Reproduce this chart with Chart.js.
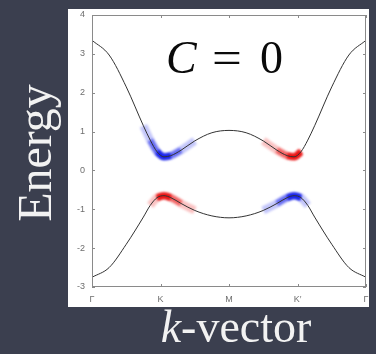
<!DOCTYPE html>
<html><head><meta charset="utf-8">
<script src="https://cdn.jsdelivr.net/npm/chart.js@4/dist/chart.umd.min.js"></script>
<style>
html,body{margin:0;padding:0;background:#3b3f4f;width:376px;height:354px;overflow:hidden}
canvas{display:block}
</style>
</head><body>
<canvas id="c" width="376" height="354"></canvas>
<script>
// ---- data ----
const kPos      = [0, 0.25, 0.5, 0.75, 0.85, 0.95, 1.05, 1.15, 1.3, 1.5, 1.75, 2, 2.25, 2.5, 2.7, 2.85, 2.95, 3.05, 3.15, 3.25, 3.5, 3.75, 4];
const kLabels   = ['Γ', 'K', 'M', 'K\u2032', 'Γ'];
const upperBand = [3.35, 2.97, 2.15, 1.15, 0.78, 0.48, 0.35, 0.38, 0.52, 0.76, 0.97, 1.03, 0.97, 0.76, 0.52, 0.38, 0.35, 0.48, 0.78, 1.15, 2.15, 2.97, 3.35];
const lowerBand = [-2.75, -2.5, -1.9, -1.2, -0.9, -0.7, -0.65, -0.7, -0.85, -1.03, -1.17, -1.22, -1.17, -1.03, -0.85, -0.7, -0.65, -0.7, -0.9, -1.2, -1.9, -2.5, -2.75];
const energyTicks = [-3, -2, -1, 0, 1, 2, 3, 4];
// k-ranges where the bands carry weight: [outer, middle, core]
const upperBlue = [[0.75, 1.5], [0.85, 1.3], [0.95, 1.15]];
const upperRed  = [[2.5, 3.05], [2.7, 3.05], [2.85, 3.05]];
const lowerRed  = [[0.85, 1.5], [0.95, 1.3], [0.95, 1.15]];
const lowerBlue = [[2.5, 3.15], [2.7, 3.05], [2.85, 3.05]];

const pts = (band, r) => kPos.map((k, i) => ({x: k, y: band[i]}))
  .filter(p => !r || (p.x >= r[0] - 1e-9 && p.x <= r[1] + 1e-9));

const BLUE = 'rgba(25,35,235,', RED = 'rgba(235,20,20,';
const line = (data, color, width, order, glow) => ({
  data, borderColor: color, borderWidth: width, pointRadius: 0,
  cubicInterpolationMode: 'monotone', fill: false, order, glow
});

const datasets = [
  line(pts(upperBand), '#333333', 1, 0),
  line(pts(lowerBand), '#333333', 1, 0),
];
[[upperBand, upperBlue, BLUE], [upperBand, upperRed, RED], [lowerBand, lowerRed, RED], [lowerBand, lowerBlue, BLUE]]
  .forEach(([band, ranges, col]) => {
    datasets.push(line(pts(band, ranges[0]), col + '0.26)', 8, 3, true));
    datasets.push(line(pts(band, ranges[1]), col + '0.55)', 6, 2, true));
    datasets.push(line(pts(band, ranges[2]), col + '1)', 6, 1, true));
  });

const framePlugin = {
  id: 'frame',
  beforeDraw(chart) {
    const {ctx, chartArea: a} = chart;
    ctx.save();
    ctx.fillStyle = '#ffffff';
    ctx.fillRect(a.left - 24, a.top - 6, (a.right + 3) - (a.left - 24), (a.bottom + 20) - (a.top - 6));
    ctx.restore();
  },
  beforeDatasetDraw(chart, args) {
    chart.ctx.save();
    if (chart.data.datasets[args.index].glow) chart.ctx.filter = 'blur(1.1px)';
  },
  afterDatasetDraw(chart) {
    chart.ctx.restore();
  },
  afterDatasetsDraw(chart) {
    const {ctx, chartArea: a, scales: {x, y}} = chart;
    ctx.save();
    ctx.strokeStyle = '#8a8a8a';
    ctx.lineWidth = 1;
    ctx.strokeRect(a.left + 0.5, a.top + 0.5, a.right - a.left - 1, a.bottom - a.top - 1);
    ctx.beginPath();
    energyTicks.forEach(v => {
      const py = Math.round(y.getPixelForValue(v)) + 0.5;
      ctx.moveTo(a.left, py); ctx.lineTo(a.left + 3, py);
      ctx.moveTo(a.right, py); ctx.lineTo(a.right - 3, py);
    });
    kLabels.forEach((l, i) => {
      const px = Math.round(x.getPixelForValue(i)) + 0.5;
      ctx.moveTo(px, a.bottom); ctx.lineTo(px, a.bottom - 3);
      ctx.moveTo(px, a.top); ctx.lineTo(px, a.top + 3);
    });
    ctx.stroke();
    ctx.restore();
  },
  afterDraw(chart) {
    const {ctx} = chart;
    ctx.save();
    ctx.textBaseline = 'alphabetic';
    // C = 0
    ctx.fillStyle = '#0a0a0a';
    ctx.font = 'italic 46px "Liberation Serif"';
    ctx.fillText('C', 166, 73);
    ctx.font = '46px "Liberation Serif"';
    ctx.save();
    ctx.translate(212, 73);
    ctx.scale(1.15, 1);
    ctx.fillText('=', 0, 0);
    ctx.restore();
    ctx.fillText('0', 260, 73);
    // Energy
    ctx.fillStyle = '#f2f2f2';
    ctx.save();
    ctx.translate(51, 153);
    ctx.rotate(-Math.PI / 2);
    ctx.textAlign = 'center';
    ctx.font = '48px "Liberation Serif"';
    ctx.fillText('Energy', 0, 0);
    ctx.restore();
    // k-vector
    ctx.font = 'italic 46px "Liberation Serif"';
    const wk = ctx.measureText('k').width;
    ctx.font = '46px "Liberation Serif"';
    const wr = ctx.measureText('-vector').width;
    const x0 = 236 - (wk + wr) / 2;
    ctx.font = 'italic 46px "Liberation Serif"';
    ctx.fillText('k', x0, 342);
    ctx.font = '46px "Liberation Serif"';
    ctx.fillText('-vector', x0 + wk, 342);
    ctx.restore();
  }
};

new Chart(document.getElementById('c'), {
  type: 'line',
  data: {datasets},
  options: {
    responsive: false,
    animation: false,
    events: [],
    layout: {padding: {left: 68, right: 10, top: 15, bottom: 47}},
    plugins: {legend: {display: false}, tooltip: {enabled: false}, title: {display: false}},
    scales: {
      x: {
        type: 'linear', min: 0, max: 4,
        afterBuildTicks: s => { s.ticks = kLabels.map((l, i) => ({value: i})); },
        afterFit: s => { s.height = 20; },
        grid: {display: false, drawTicks: false},
        border: {display: false},
        ticks: {
          callback: v => kLabels[v],
          color: '#6e6e6e', padding: 7, maxRotation: 0, autoSkip: false,
          font: {family: '"Liberation Sans"', size: 9}
        }
      },
      y: {
        type: 'linear', min: -3, max: 4,
        afterBuildTicks: s => { s.ticks = energyTicks.map(v => ({value: v})); },
        afterFit: s => { s.width = 24; },
        grid: {display: false, drawTicks: false},
        border: {display: false},
        ticks: {
          color: '#6e6e6e', padding: 7,
          font: {family: '"Liberation Sans"', size: 9}
        }
      }
    }
  },
  plugins: [framePlugin]
});
</script>
</body></html>
